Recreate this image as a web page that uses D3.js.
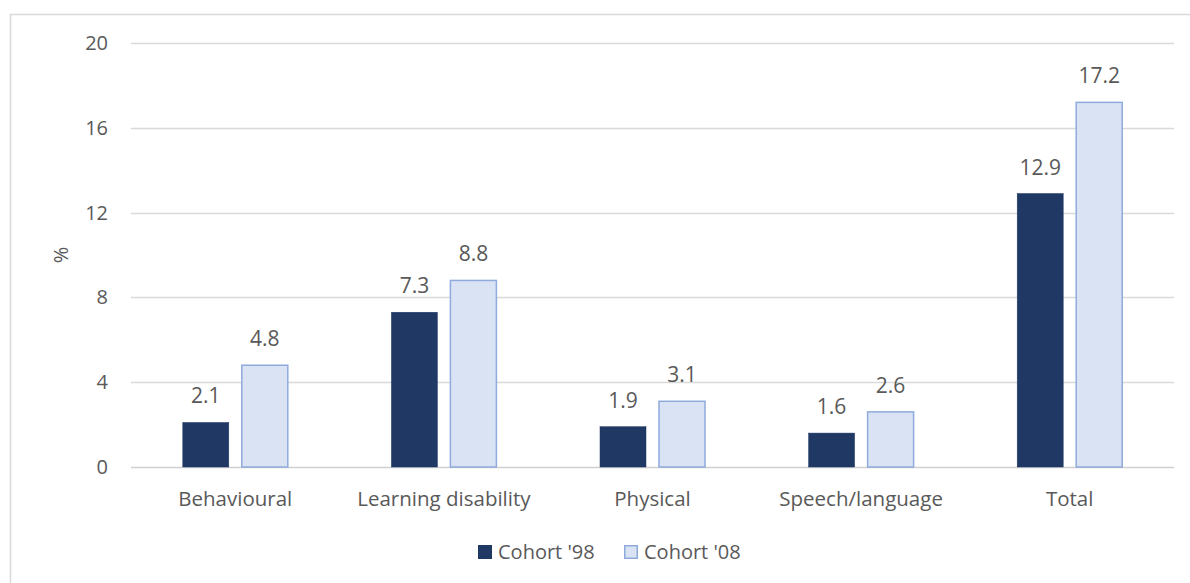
<!DOCTYPE html>
<html>
<head>
<meta charset="utf-8">
<script src="https://cdn.jsdelivr.net/npm/d3@7"></script>
<style>
  body { margin: 0; background: #fff; }
  svg text { font-family: "Open Sans", "Noto Sans", sans-serif; fill: #595959; }
</style>
</head>
<body>
<div id="chart"></div>
<script>
// chart data
var categories = ["Behavioural", "Learning disability", "Physical", "Speech/language", "Total"];
var seriesNames = ["Cohort '98", "Cohort '08"];
var cohort98 = [2.1, 7.3, 1.9, 1.6, 12.9];
var cohort08 = [4.8, 8.8, 3.1, 2.6, 17.2];
var yTicks = [0, 4, 8, 12, 16, 20];

var options = {
  width: 1190, height: 583,
  margin: { left: 131, right: 16, top: 43, bottom: 116 }
};

var fills = ["#1F3864", "#DAE3F3"];
var strokes = ["#1F3864", "#8FAADC"];

var data = categories.map(function (c, i) {
  return { cat: c, values: [cohort98[i], cohort08[i]] };
});

var svg = d3.select("#chart")
  .append("svg")
  .attr("width", options.width)
  .attr("height", options.height);

// outer chart border
svg.append("rect")
  .attr("x", 10.5).attr("y", 14.5)
  .attr("width", 1200).attr("height", 600)
  .attr("fill", "none")
  .attr("stroke", "#D9D9D9")
  .attr("stroke-width", 1.5);

var x0 = d3.scaleBand()
  .domain(categories)
  .range([options.margin.left, options.width - options.margin.right])
  .padding(0);

var yScale = d3.scaleLinear()
  .domain([0, 20])
  .range([467, options.margin.top]);

var groupW = 105;
var x1 = d3.scaleBand()
  .domain([0, 1])
  .range([x0.bandwidth() / 2 - groupW / 2, x0.bandwidth() / 2 + groupW / 2])
  .paddingInner(13 / 59);

// gridlines
svg.append("g").selectAll("line")
  .data(yTicks).enter().append("line")
    .attr("x1", x0.range()[0])
    .attr("x2", x0.range()[1])
    .attr("y1", function (d) { return Math.round(yScale(d)) + 0.5; })
    .attr("y2", function (d) { return Math.round(yScale(d)) + 0.5; })
    .attr("stroke", function (d) { return d === 0 ? "#D0D0D0" : "#D9D9D9"; })
    .attr("stroke-width", 1.5);

// y tick labels
svg.append("g").selectAll("text")
  .data(yTicks).enter().append("text")
    .attr("x", 108)
    .attr("y", function (d) { return yScale(d) + 7; })
    .attr("text-anchor", "end")
    .style("font-size", "20px")
    .text(function (d) { return d; });

// y axis title
svg.append("text")
  .attr("transform", "translate(68,255) rotate(-90)")
  .attr("text-anchor", "middle")
  .style("font-size", "20px")
  .text("%");

// bars
var groups = svg.append("g").selectAll("g")
  .data(data).enter().append("g")
    .attr("transform", function (d) { return "translate(" + x0(d.cat) + ",0)"; });

groups.selectAll("rect")
  .data(function (d) { return d.values.map(function (v, i) { return { v: v, s: i }; }); })
  .enter().append("rect")
    .attr("x", function (d) { return x1(d.s); })
    .attr("y", function (d) { return yScale(d.v); })
    .attr("width", x1.bandwidth())
    .attr("height", function (d) { return yScale(0) - yScale(d.v); })
    .attr("fill", function (d) { return fills[d.s]; })
    .attr("stroke", function (d) { return strokes[d.s]; })
    .attr("stroke-width", function (d) { return d.s === 1 ? 1.5 : 0.5; });

groups.selectAll(".value")
  .data(function (d) { return d.values.map(function (v, i) { return { v: v, s: i }; }); })
  .enter().append("text")
    .attr("class", "value")
    .attr("text-anchor", "middle")
    .attr("x", function (d) { return x1(d.s) + x1.bandwidth() / 2; })
    .attr("y", function (d) { return yScale(d.v) - 19; })
    .style("font-size", "21px")
    .text(function (d) { return d.v.toFixed(1); });

// category labels
svg.append("g").selectAll("text")
  .data(categories).enter().append("text")
    .attr("x", function (d) { return x0(d) + x0.bandwidth() / 2; })
    .attr("y", 506)
    .attr("text-anchor", "middle")
    .style("font-size", "20.5px")
    .text(function (d) { return d; });

// legend
var legendX = [478, 624];
var legend = svg.append("g").selectAll("g")
  .data(seriesNames).enter().append("g")
    .attr("transform", function (d, i) { return "translate(" + legendX[i] + ",545)"; });

legend.append("rect")
  .attr("x", function (d, i) { return i === 1 ? 0.75 : 0; })
  .attr("y", function (d, i) { return i === 1 ? 0.75 : 0; })
  .attr("width", function (d, i) { return i === 1 ? 12.5 : 14; })
  .attr("height", function (d, i) { return i === 1 ? 12.5 : 14; })
  .attr("fill", function (d, i) { return fills[i]; })
  .attr("stroke", function (d, i) { return i === 1 ? strokes[i] : "none"; })
  .attr("stroke-width", 1.5);

legend.append("text")
  .attr("x", 20)
  .attr("y", 14)
  .style("font-size", "20px")
  .text(function (d) { return d; });
</script>
</body>
</html>
